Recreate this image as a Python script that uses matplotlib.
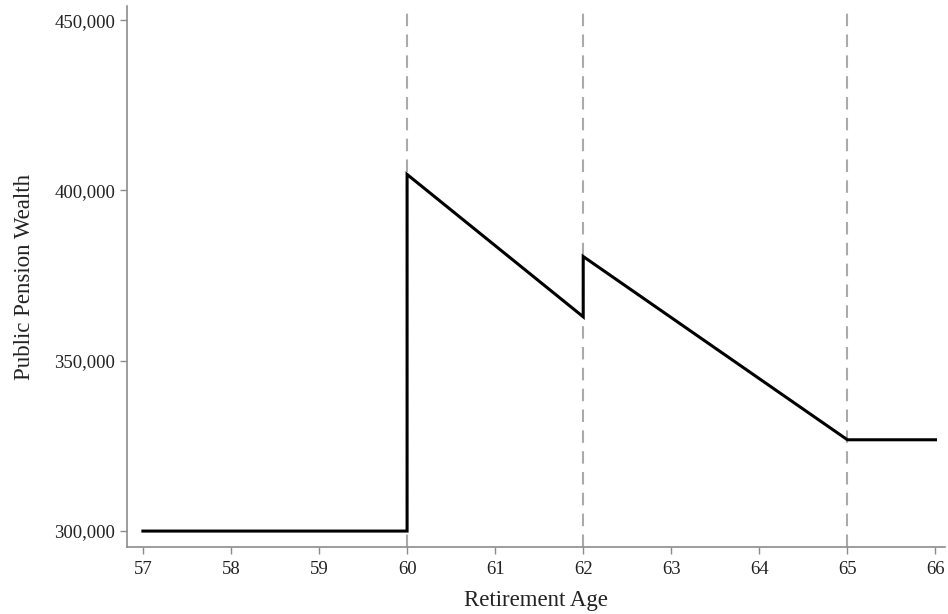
import matplotlib
matplotlib.use("Agg")
import matplotlib.pyplot as plt
from matplotlib.ticker import FuncFormatter

plt.rcParams['font.family'] = ['Liberation Serif', 'DejaVu Serif']

ages = [57, 60, 60, 62, 62, 65, 66]
wealth = [300000, 300000, 404700, 362900, 380600, 326800, 326800]
ref_ages = [60, 62, 65]
xticks = list(range(57, 67))
yticks = [300000, 350000, 400000, 450000]

fig = plt.figure(figsize=(9.48, 6.14), dpi=100)
ax = fig.add_axes([0.134, 0.109, 0.863, 0.881])

for a in ref_ages:
    ax.axvline(a, color='#aaaaaa', lw=1.5, dashes=(6, 4), zorder=1)

ax.plot(ages, wealth, color='black', lw=2.2, zorder=3, solid_joinstyle='miter')

ax.set_xlim(56.82, 66.11)
ax.set_ylim(295300, 454100)
ax.set_xticks(xticks)
ax.set_yticks(yticks)
ax.yaxis.set_major_formatter(FuncFormatter(lambda v, p: f"{int(v):,}"))

for s in ['top', 'right']:
    ax.spines[s].set_visible(False)
for s in ['left', 'bottom']:
    ax.spines[s].set_color('#8c8c8c')
    ax.spines[s].set_linewidth(1.2)
ax.tick_params(colors='#8c8c8c', labelcolor='#222222', length=5, width=1, labelsize=13.5)
ax.tick_params(axis='x', pad=5)

ax.set_xlabel('Retirement Age', fontsize=16.5, color='#222222', labelpad=9)
ax.set_ylabel('Public Pension Wealth', fontsize=16.5, color='#222222', labelpad=14)

fig.savefig('out.png', dpi=100)
